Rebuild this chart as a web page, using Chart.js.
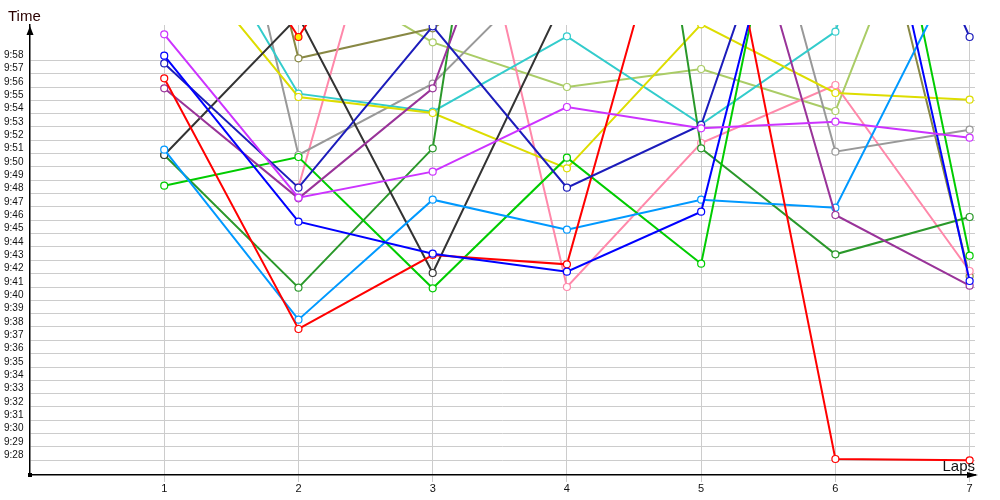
<!DOCTYPE html>
<html>
<head>
<meta charset="utf-8">
<script src="https://cdn.jsdelivr.net/npm/chart.js@4/dist/chart.umd.min.js"></script>
<style>
    html, body { margin: 0; padding: 0; background: #fff; }
    #box { width: 1000px; height: 500px; }
</style>
</head>
<body>
<div id="box"><canvas id="myChart" width="1000" height="500"></canvas></div>
<script>
// laps on the x axis
var laps = [1, 2, 3, 4, 5, 6, 7];
// time ticks, minutes after 9:00
var minuteTicks = [];
for (var m = 28; m <= 58; m++) minuteTicks.push(m);

// lap times per runner, in minutes after 9:00 (null = no value)
var magenta    = [59.95, 47.7, 49.65, 54.5, 52.9, 53.4, 52.2];
var blue       = [58.35, 45.9, 43.5, 42.15, 46.65, 86.5, 41.45];
var navy       = [57.77, 48.45, 60.55, 48.45, 53.15, 82.5, 59.75];
var red        = [56.65, 37.85, 43.4, 42.7, 78.6, 28.1, 28.0];
var red2       = [75.4, 59.75, 75.6, null, null, null, null];
var purple     = [55.9, 47.65, 55.9, 83.0, 81.2, 46.4, 41.1];
var skyBlue    = [51.3, 38.55, 47.55, 45.3, 47.55, 46.95, 66.9];
var charcoal   = [50.9, 61.3, 42.05, 63.1, null, null, null];
var green      = [48.6, 50.75, 40.9, 50.7, 42.75, 91.9, 43.35];
var darkGreen  = [50.9, 40.95, 51.4, 116, 51.4, 43.45, 46.25];
var yellow     = [67.5, 55.25, 54.05, 49.9, 60.7, 55.55, 55.05];
var cyan       = [72.5, 55.5, 54.15, 59.8, 53.2, 60.15, 92];
var gray       = [93.7, 50.9, 56.25, 66.3, 88.1, 51.15, 52.8];
var pink       = [null, 48.5, 84, 41.0, 51.8, 56.15, 42.2];
var olive      = [98.6, 58.15, 60.4, 67, 75, 82.7, 41.8];
var lightGreen = [null, 65.3, 59.35, 56.0, 57.35, 54.2, 79.9];

var series = [
    [magenta, '#cc33ff'],
    [blue, '#0000ff'],
    [navy, '#1c1cbb'],
    [red, '#ff0000'],
    [red2, '#ff0000', '#ffee00'],
    [purple, '#993399'],
    [skyBlue, '#0099ff'],
    [charcoal, '#333333'],
    [green, '#00cc00'],
    [darkGreen, '#2a982a'],
    [yellow, '#dddd00'],
    [cyan, '#33cccc'],
    [gray, '#999999'],
    [pink, '#ff88aa'],
    [olive, '#888844'],
    [lightGreen, '#aacc66']
];

var datasets = [];
for (var i = 0; i < series.length; i++) {
    var vals = series[i][0];
    var pts = [];
    for (var j = 0; j < laps.length; j++) {
        pts.push({ x: laps[j], y: vals[j] });
    }
    datasets.push({
        data: pts,
        borderColor: series[i][1],
        backgroundColor: series[i][1],
        pointBackgroundColor: series[i][2] || '#ffffff',
        pointBorderColor: series[i][1],
        pointRadius: 3.5,
        pointBorderWidth: 1.2,
        borderWidth: 2,
        spanGaps: false,
        tension: 0
    });
}

function pad(n) { return n < 10 ? '0' + n : '' + n; }

// arrows, origin square and axis titles
const decor = {
    id: 'decor',
    afterDraw(chart) {
        const ctx = chart.ctx;
        const a = chart.chartArea;
        ctx.save();
        ctx.fillStyle = '#000';
        // y arrow
        ctx.beginPath();
        ctx.moveTo(a.left, a.top + 1);
        ctx.lineTo(a.left - 3.5, a.top + 10);
        ctx.lineTo(a.left + 3.5, a.top + 10);
        ctx.closePath();
        ctx.fill();
        // x arrow
        ctx.beginPath();
        ctx.moveTo(a.right + 3, a.bottom);
        ctx.lineTo(a.right - 8, a.bottom - 3);
        ctx.lineTo(a.right - 8, a.bottom + 3);
        ctx.closePath();
        ctx.fill();
        ctx.fillRect(a.left - 2, a.bottom - 2, 4, 4);

        ctx.font = '15px "Liberation Sans", Arial, sans-serif';
        ctx.fillStyle = '#2a0000';
        ctx.textAlign = 'left';
        ctx.textBaseline = 'alphabetic';
        ctx.fillText('Time', 8, 21);
        ctx.fillStyle = '#111';
        ctx.textAlign = 'right';
        ctx.fillText('Laps', a.right, a.bottom - 4);
        ctx.restore();
    }
};

const config = {
    type: 'line',
    data: { datasets: datasets },
    options: {
        responsive: false,
        animation: false,
        layout: { padding: { left: 4, top: 25, right: 25, bottom: 0 } },
        plugins: { legend: { display: false }, tooltip: { enabled: false } },
        scales: {
            x: {
                type: 'linear',
                min: 0,
                max: 7.04,
                afterBuildTicks: function (s) { s.ticks = laps.map(v => ({ value: v })); },
                afterFit: function (s) { s.height = 25; },
                grid: { color: '#cccccc', tickColor: '#cccccc', tickLength: 7, drawTicks: true },
                border: { color: '#000', width: 1.5 },
                ticks: {
                    padding: 0,
                    color: '#111',
                    font: { family: '"Liberation Sans", Arial, sans-serif', size: 11 }
                }
            },
            y: {
                type: 'linear',
                min: 26.9,
                max: 60.65,
                afterBuildTicks: function (s) { s.ticks = minuteTicks.map(v => ({ value: v })); },
                afterFit: function (s) { s.width = 26; },
                grid: { color: '#cccccc', drawTicks: false },
                border: { color: '#000', width: 1.5 },
                ticks: {
                    crossAlign: 'far',
                    labelOffset: -5,
                    padding: 0,
                    color: '#111',
                    font: { family: '"Liberation Sans", Arial, sans-serif', size: 10 },
                    callback: function (v) { return '9:' + pad(v); }
                }
            }
        }
    },
    plugins: [decor]
};

const myChart = new Chart(document.getElementById('myChart'), config);
</script>
</body>
</html>
